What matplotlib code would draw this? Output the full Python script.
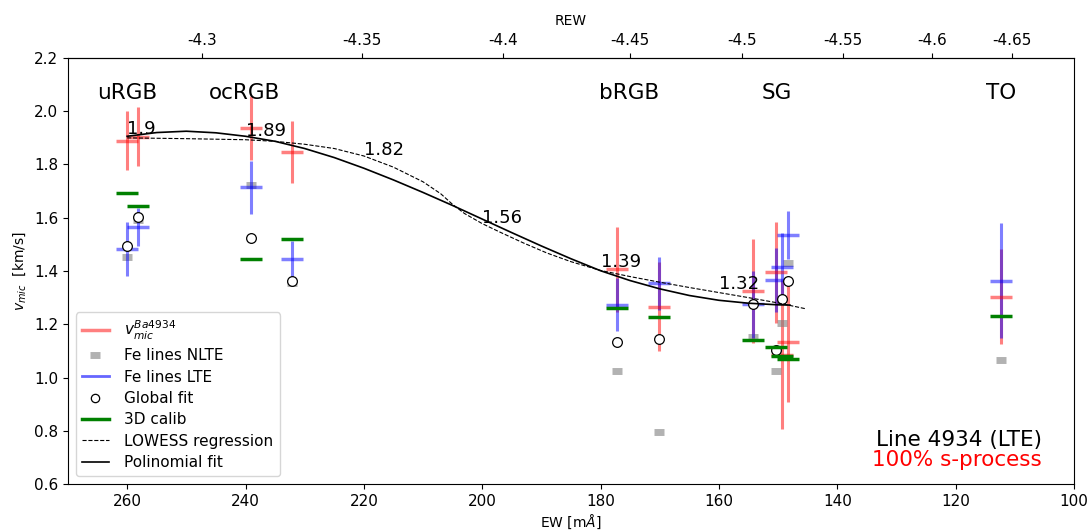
import numpy as np
import matplotlib
matplotlib.use("Agg")
import matplotlib.pyplot as plt
from matplotlib.lines import Line2D

# ---------------- data ----------------
ew = [260.0, 258.1, 239.1, 232.2, 177.2, 170.2, 154.3, 150.3, 149.3, 148.3, 112.3]
vmic_ba = [1.89, 1.905, 1.936, 1.848, 1.406, 1.266, 1.326, 1.395, 1.085, 1.134, 1.304]
vmic_ba_err = [0.11, 0.11, 0.12, 0.117, 0.16, 0.166, 0.195, 0.19, 0.28, 0.225, 0.177]
fe_lte = [1.483, 1.565, 1.714, 1.444, 1.273, 1.354, 1.275, 1.365, 1.414, 1.534, 1.364]
fe_lte_err = [0.10, 0.07, 0.10, 0.07, 0.10, 0.10, 0.125, 0.12, 0.128, 0.09, 0.215]
fe_nlte = [1.454, 1.59, 1.723, 1.355, 1.024, 0.794, 1.152, 1.024, 1.204, 1.429, 1.065]
global_fit = [1.494, 1.604, 1.525, 1.363, 1.134, 1.145, 1.275, 1.103, 1.294, 1.364, np.nan]
calib3d = [1.692, 1.644, 1.446, 1.519, 1.261, 1.226, 1.141, 1.114, 1.081, 1.069, 1.231]

poly_ew = [260, 255, 250, 245, 240, 235, 230, 225, 220, 215, 210, 205, 200,
           195, 190, 185, 180, 175, 170, 165, 160, 155, 150, 148]
poly_v = [1.906, 1.920, 1.925, 1.919, 1.906, 1.887, 1.860, 1.826, 1.786, 1.742,
          1.695, 1.646, 1.595, 1.544, 1.494, 1.446, 1.401, 1.364, 1.333, 1.308,
          1.290, 1.279, 1.273, 1.272]

lowess_ew = [260, 250, 240, 235, 230, 225, 220, 215, 210, 207, 205, 203, 200,
             197, 193, 189, 185, 180, 175, 170, 165, 160, 155, 150, 145.3]
lowess_v = [1.900, 1.897, 1.893, 1.887, 1.876, 1.860, 1.832, 1.790, 1.735, 1.690,
            1.650, 1.616, 1.578, 1.546, 1.505, 1.467, 1.435, 1.402, 1.379, 1.358,
            1.338, 1.319, 1.300, 1.280, 1.258]

ann_ew = [260, 240, 220, 200, 180, 160]
ann_y = [1.915, 1.907, 1.836, 1.579, 1.414, 1.331]
ann_txt = ["1.9", "1.89", "1.82", "1.56", "1.39", "1.32"]

groups = ["uRGB", "ocRGB", "bRGB", "SG", "TO"]
group_ew = [260.0, 240.2, 175.2, 150.2, 112.3]

rew_ticks = [-4.3, -4.35, -4.4, -4.45, -4.5, -4.55, -4.6, -4.65]
rew_labels = ["-4.3", "-4.35", "-4.4", "-4.45", "-4.5", "-4.55", "-4.6", "-4.65"]
xticks = [260, 240, 220, 200, 180, 160, 140, 120, 100]
yticks = [0.6, 0.8, 1.0, 1.2, 1.4, 1.6, 1.8, 2.0, 2.2]
LAMBDA = 4934.08

# ---------------- figure ----------------
fig = plt.figure(figsize=(10.91, 5.32), dpi=100)
ax = fig.add_axes([0.0623, 0.0902, 0.9221, 0.8008])

ax.errorbar(ew, vmic_ba, yerr=vmic_ba_err, fmt='_', color='red', alpha=0.5,
            ms=16, mew=2.5, elinewidth=2.2, capsize=0, zorder=2)
ax.plot(ew, fe_nlte, ls='none', marker='_', ms=7, mew=5, color='gray', alpha=0.6, zorder=2)
ax.errorbar(ew, fe_lte, yerr=fe_lte_err, fmt='_', color='blue', alpha=0.5,
            ms=16, mew=2.5, elinewidth=2.2, capsize=0, zorder=2)
ax.plot(ew, global_fit, ls='none', marker='o', ms=7, mfc='white', mec='black',
        mew=0.9, zorder=3)
ax.plot(ew, calib3d, ls='none', marker='_', ms=16, mew=2.5, color='green', zorder=4)
ax.plot(lowess_ew, lowess_v, 'k--', lw=0.8, zorder=5)
ax.plot(poly_ew, poly_v, 'k-', lw=1.2, zorder=5)

for x, y, t in zip(ann_ew, ann_y, ann_txt):
    ax.text(x, y, t, fontsize=13, ha='left', va='baseline', zorder=6)

for g, x in zip(groups, group_ew):
    ax.text(x, 2.068, g, fontsize=15.5, ha='center', va='center')

ax.text(0.968, 0.089, "Line 4934 (LTE)", transform=ax.transAxes, fontsize=15.5,
        ha='right', va='baseline')
ax.text(0.968, 0.042, "100% s-process", transform=ax.transAxes, fontsize=15.5,
        ha='right', va='baseline', color='red')

ax.set_xlim(270, 100)
ax.set_ylim(0.6, 2.2)
ax.set_xticks(xticks)
ax.set_yticks(yticks)
ax.set_yticklabels([f"{v:.1f}" for v in yticks])
ax.set_xlabel(r"EW [m$\AA$]", fontsize=10, labelpad=3)
ax.set_ylabel(r"$v_{mic}$  [km/s]", fontsize=10)

for lab in ax.get_xticklabels() + ax.get_yticklabels():
    lab.set_fontsize(11)

sec = ax.secondary_xaxis('top',
                         functions=(lambda e: np.log10(np.clip(e, 1e-3, None) / 1000.0 / LAMBDA),
                                    lambda r: 10 ** np.asarray(r) * LAMBDA * 1000.0))
sec.set_xticks(rew_ticks)
sec.set_xticklabels(rew_labels, fontsize=11)
sec.set_xlabel("REW", fontsize=10, labelpad=6)

handles = [
    Line2D([], [], color='red', alpha=0.5, lw=2.5),
    Line2D([], [], ls='none', marker='_', ms=7, mew=5, color='gray', alpha=0.6),
    Line2D([], [], color='blue', alpha=0.6, lw=2),
    Line2D([], [], ls='none', marker='o', ms=6, mfc='white', mec='black', mew=0.9),
    Line2D([], [], color='green', lw=2.5),
    Line2D([], [], color='black', ls='--', lw=0.8),
    Line2D([], [], color='black', ls='-', lw=1.2),
]
labels = [r"$v_{mic}^{Ba4934}$", "Fe lines NLTE", "Fe lines LTE", "Global fit",
          "3D calib", "LOWESS regression", "Polinomial fit"]
ax.legend(handles, labels, loc='lower left', fontsize=11, handlelength=1.8,
          handletextpad=1.0, labelspacing=0.42, borderpad=0.4, framealpha=0.8)

fig.savefig("out.png", dpi=100)
